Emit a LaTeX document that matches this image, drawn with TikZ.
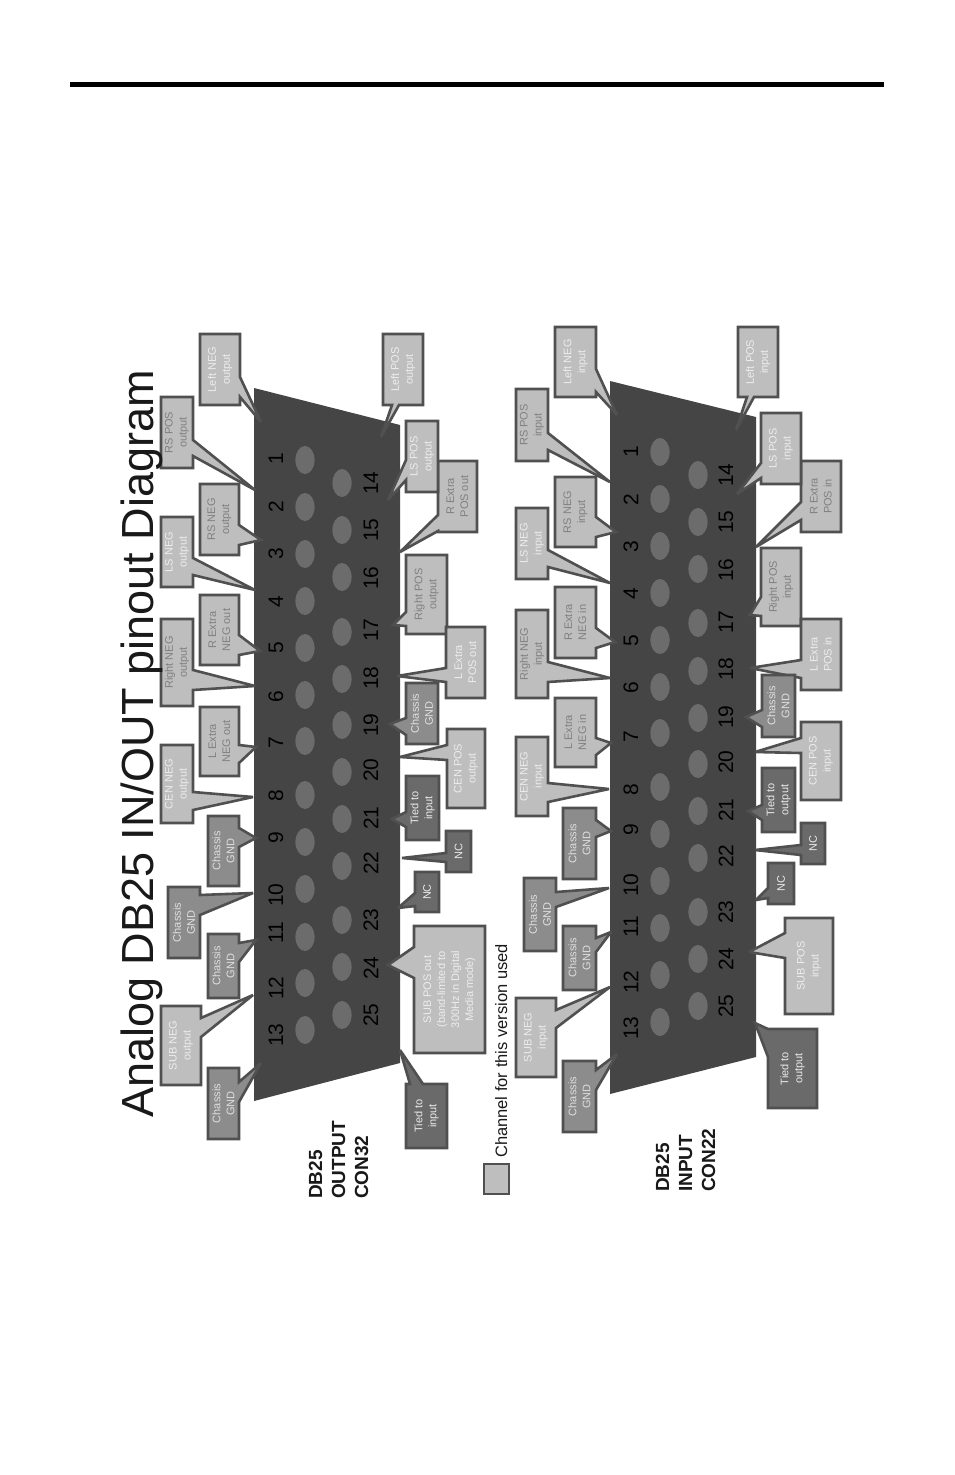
\documentclass[tikz,border=0pt]{standalone}
\usepackage{fontspec}
\setmainfont{Liberation Sans}
\newcommand{\cSet}[7]{\def\cSty{#1}\def\cNm{#2}\def\cTx{#3}\def\cXa{#4}\def\cXb{#5}\def\cYa{#6}\def\cYb{#7}}
\newcommand{\cFin}{\node[text\cSty] (\cNm) at ({(\cXa+\cXb)/2},{(\cYa+\cYb)/2}) {\cTx};}
\newcommand{\cR}[4]{\draw[box\cSty] (\cXa,\cYa) -- (\cXb,\cYa) -- (\cXb,#1) -- (#3,#4) -- (\cXb,#2) -- (\cXb,\cYb) -- (\cXa,\cYb) -- cycle; \cFin}
\newcommand{\cL}[4]{\draw[box\cSty] (\cXa,\cYa) -- (\cXb,\cYa) -- (\cXb,\cYb) -- (\cXa,\cYb) -- (\cXa,#2) -- (#3,#4) -- (\cXa,#1) -- cycle; \cFin}
\newcommand{\cB}[4]{\draw[box\cSty] (\cXa,\cYa) -- (\cXb,\cYa) -- (\cXb,\cYb) -- (#2,\cYb) -- (#3,#4) -- (#1,\cYb) -- (\cXa,\cYb) -- cycle; \cFin}
\newcommand{\cT}[4]{\draw[box\cSty] (\cXa,\cYa) -- (#1,\cYa) -- (#3,#4) -- (#2,\cYa) -- (\cXb,\cYa) -- (\cXb,\cYb) -- (\cXa,\cYb) -- cycle; \cFin}
\definecolor{shell}{HTML}{454545}
\definecolor{hole}{HTML}{6C6C6C}
\definecolor{edge}{HTML}{505050}
\definecolor{lightfill}{HTML}{BEBEBE}
\definecolor{midfill}{HTML}{8C8C8C}
\definecolor{darkfill}{HTML}{6A6A6A}
\tikzset{
  x=1pt,y=-1pt,
  boxbase/.style={draw=edge,line width=2.6pt,line join=miter,miter limit=3},
  boxlw/.style={boxbase,fill=lightfill},
  boxlg/.style={boxbase,fill=lightfill},
  boxch/.style={boxbase,fill=midfill},
  boxdk/.style={boxbase,fill=darkfill},
  textbase/.style={rotate=90,align=center,inner sep=0pt,font=\fontsize{11}{14}\selectfont},
  textlw/.style={textbase,text=white!72!lightfill},
  textlg/.style={textbase,text=black!50},
  textch/.style={textbase,text=white!72!midfill},
  textdk/.style={textbase,text=white!85!darkfill},
  pinnum/.style={rotate=90,inner sep=0pt,text=black,font=\fontsize{21}{23}\selectfont},
  conntitle/.style={rotate=90,anchor=base west,inner sep=0pt,align=left,font=\bfseries\fontsize{19}{23}\selectfont,text=black!90},
  holemark/.style={fill=hole,draw=none}
}
\begin{document}
\begin{tikzpicture}
\useasboundingbox (0,0) rectangle (954,1475);
\fill[white] (0,0) rectangle (954,1475);
\fill[black] (70,82) rectangle (884,87);
% ---------- output connector
\fill[shell] (254,388) -- (400,425) -- (400,1063) -- (254,1101) -- cycle;
\foreach \y in {460,507,554,601,648,695,741,795,842,889,937,983,1030}
  \fill[holemark] (305,\y) ellipse [x radius=9.6,y radius=14];
\foreach \y in {483,530,577,632,679,725,772,819,866,920,967,1015}
  \fill[holemark] (342,\y) ellipse [x radius=9.6,y radius=14];
\foreach \n/\y in {1/459,2/507,3/554,4/602,5/648,6/697,7/743,8/796,9/838,10/895,11/933,12/988,13/1035}
  \node[pinnum] (oa\n) at (276,\y) {\n};
\foreach \n/\y in {14/483,15/530,16/578,17/630,18/678,19/725,20/770,21/818,22/863,23/920,24/968,25/1015}
  \node[pinnum] (ob\n) at (371,\y) {\n};
% left callouts, output
\cSet{lw}{o1}{Left NEG\\output}{200}{240}{334}{405}\cR{377}{397}{261}{422}
\cSet{lg}{o2}{RS POS\\output}{161}{193}{397}{468}\cR{440}{456}{255}{490}
\cSet{lg}{o3}{RS NEG\\output}{200}{239}{484}{555}\cR{525}{545}{261}{540}
\cSet{lw}{o4}{LS NEG\\output}{161}{193}{517}{587}\cR{558}{575}{255}{590}
\cSet{lg}{o5}{R Extra\\NEG out}{200}{239}{595}{665}\cR{635}{655}{260}{651}
\cSet{lg}{o6}{Right NEG\\output}{161}{193}{619}{706}\cR{670}{690}{255}{686}
\cSet{lg}{o7}{L Extra\\NEG out}{200}{239}{707}{776}\cR{745}{763}{256}{747}
\cSet{lw}{o8}{CEN NEG\\output}{161}{193}{745}{823}\cR{792}{810}{253}{797}
\cSet{ch}{o9}{Chassis\\GND}{208}{239}{816}{886}\cR{828}{847}{256}{838}
\cSet{ch}{o10}{Chassis\\GND}{168}{200}{887}{958}\cR{895}{915}{253}{893}
\cSet{ch}{o11}{Chassis\\GND}{208}{239}{934}{998}\cR{943}{962}{256}{940}
\cSet{lw}{o12}{SUB NEG\\output}{161}{201}{1006}{1085}\cR{1018}{1037}{253}{995}
\cSet{ch}{o13}{Chassis\\GND}{208}{239}{1068}{1139}\cR{1082}{1102}{261}{1063}
% right callouts, output
\cSet{lw}{o14}{Left POS\\output}{383}{423}{334}{405}\cB{392}{399}{381}{437}
\cSet{lg}{o16}{R Extra\\POS out}{438}{477}{461}{532}\cL{515}{531}{400}{552}
\cSet{lw}{o15}{LS POS\\output}{406}{438}{421}{492}\cL{460}{480}{388}{500}
\cSet{lg}{o17}{Right POS\\output}{406}{447}{555}{634}\cL{612}{626}{393}{625}
\cSet{lw}{o18}{L Extra\\POS out}{446}{485}{627}{698}\cL{668}{682}{397}{676}
\cSet{lw}{o20}{CEN POS\\output}{447}{485}{729}{808}\cL{745}{760}{400}{757}
\cSet{ch}{o19}{Chassis\\GND}{406}{438}{683}{744}\cL{718}{735}{390}{724}
\cSet{dk}{o21}{Tied to\\input}{406}{439}{776}{840}\cL{812}{827}{392}{819}
\cSet{dk}{o22}{NC}{446}{471}{831}{872}\cL{853}{862}{402}{858}
\cSet{dk}{o23}{NC}{415}{439}{872}{912}\cL{893}{906}{398}{908}
\cSet{lw}{o24}{SUB POS out\\(band-limited to\\300Hz in Digital\\Media mode)}{414}{485}{926}{1053}\cL{947}{978}{388}{965}
\cSet{dk}{o25}{Tied to\\input}{406}{447}{1084}{1148}\cT{410}{423}{400}{1050}
% ---------- input connector
\fill[shell] (610,381) -- (756,417) -- (756,1057) -- (610,1094) -- cycle;
\foreach \y in {452,499,546,593,640,687,733,787,834,881,928,975,1022}
  \fill[holemark] (660,\y) ellipse [x radius=9.6,y radius=14];
\foreach \y in {475,522,569,623,671,718,764,811,858,912,959,1006}
  \fill[holemark] (698,\y) ellipse [x radius=9.6,y radius=14];
\foreach \n/\y in {1/452,2/500,3/547,4/594,5/641,6/688,7/737,8/790,9/830,10/885,11/927,12/982,13/1028}
  \node[pinnum] (ia\n) at (631,\y) {\n};
\foreach \n/\y in {14/475,15/522,16/570,17/622,18/669,19/717,20/762,21/810,22/856,23/912,24/959,25/1006}
  \node[pinnum] (ib\n) at (726,\y) {\n};
% left callouts, input
\cSet{lw}{i1}{Left NEG\\input}{555}{596}{327}{397}\cR{369}{392}{617}{415}
\cSet{lg}{i2}{RS POS\\input}{516}{548}{389}{461}\cR{433}{450}{610}{482}
\cSet{lg}{i3}{RS NEG\\input}{555}{596}{477}{547}\cR{517}{537}{616}{532}
\cSet{lw}{i4}{LS NEG\\input}{516}{548}{508}{579}\cR{550}{567}{610}{583}
\cSet{lg}{i5}{R Extra\\NEG in}{555}{596}{587}{658}\cR{628}{648}{615}{642}
\cSet{lg}{i6}{Right NEG\\input}{516}{548}{610}{698}\cR{662}{682}{610}{678}
\cSet{lg}{i7}{L Extra\\NEG in}{555}{596}{698}{767}\cR{738}{755}{611}{743}
\cSet{lw}{i8}{CEN NEG\\input}{516}{548}{737}{816}\cR{783}{802}{609}{789}
\cSet{ch}{i9}{Chassis\\GND}{563}{596}{808}{879}\cR{820}{837}{611}{831}
\cSet{ch}{i10}{Chassis\\GND}{524}{556}{878}{951}\cR{892}{907}{609}{888}
\cSet{ch}{i11}{Chassis\\GND}{563}{596}{926}{990}\cR{938}{952}{611}{932}
\cSet{lw}{i12}{SUB NEG\\input}{516}{556}{998}{1077}\cR{1010}{1028}{610}{987}
\cSet{ch}{i13}{Chassis\\GND}{563}{596}{1061}{1132}\cR{1070}{1090}{617}{1054}
% right callouts, input
\cSet{lw}{i14}{Left POS\\input}{738}{778}{327}{397}\cB{747}{754}{736}{430}
\cSet{lg}{i16}{R Extra\\POS in}{801}{841}{461}{532}\cL{502}{520}{756}{547}
\cSet{lw}{i15}{LS POS\\input}{761}{801}{413}{484}\cL{463}{478}{737}{494}
\cSet{lg}{i17}{Right POS\\input}{761}{801}{548}{626}\cL{597}{616}{750}{615}
\cSet{lw}{i18}{L Extra\\POS in}{801}{841}{619}{690}\cL{660}{678}{750}{668}
\cSet{lw}{i20}{CEN POS\\input}{801}{841}{722}{800}\cL{738}{753}{755}{752}
\cSet{ch}{i19}{Chassis\\GND}{762}{795}{675}{737}\cL{710}{727}{746}{717}
\cSet{dk}{i21}{Tied to\\output}{762}{795}{768}{832}\cL{805}{820}{748}{811}
\cSet{dk}{i22}{NC}{801}{825}{823}{864}\cL{845}{855}{755}{850}
\cSet{dk}{i23}{NC}{768}{794}{863}{904}\cL{888}{898}{756}{900}
\cSet{lw}{i24}{SUB POS\\input}{785}{833}{918}{1014}\cL{933}{958}{749}{952}
\cSet{dk}{i25}{Tied to\\output}{768}{817}{1029}{1108}\cL{1029}{1057}{755}{1023}
% ---------- titles and legend
\node[rotate=90,anchor=base west,inner sep=0pt,text=black!90,font=\fontsize{45}{48}\selectfont] (title) at (153,1118) {Analog DB25 IN/OUT pinout Diagram};
\node[conntitle] (outlabel) at (368,1199) {DB25\\OUTPUT\\CON32};
\node[conntitle] (inlabel) at (715,1192) {DB25\\INPUT\\CON22};
\draw[boxlw] (484,1164) rectangle (509,1194);
\node[rotate=90,anchor=base west,inner sep=0pt,text=black!90,font=\fontsize{16.5}{20}\selectfont] (legend) at (507,1158) {Channel for this version used};
\end{tikzpicture}
\end{document}
